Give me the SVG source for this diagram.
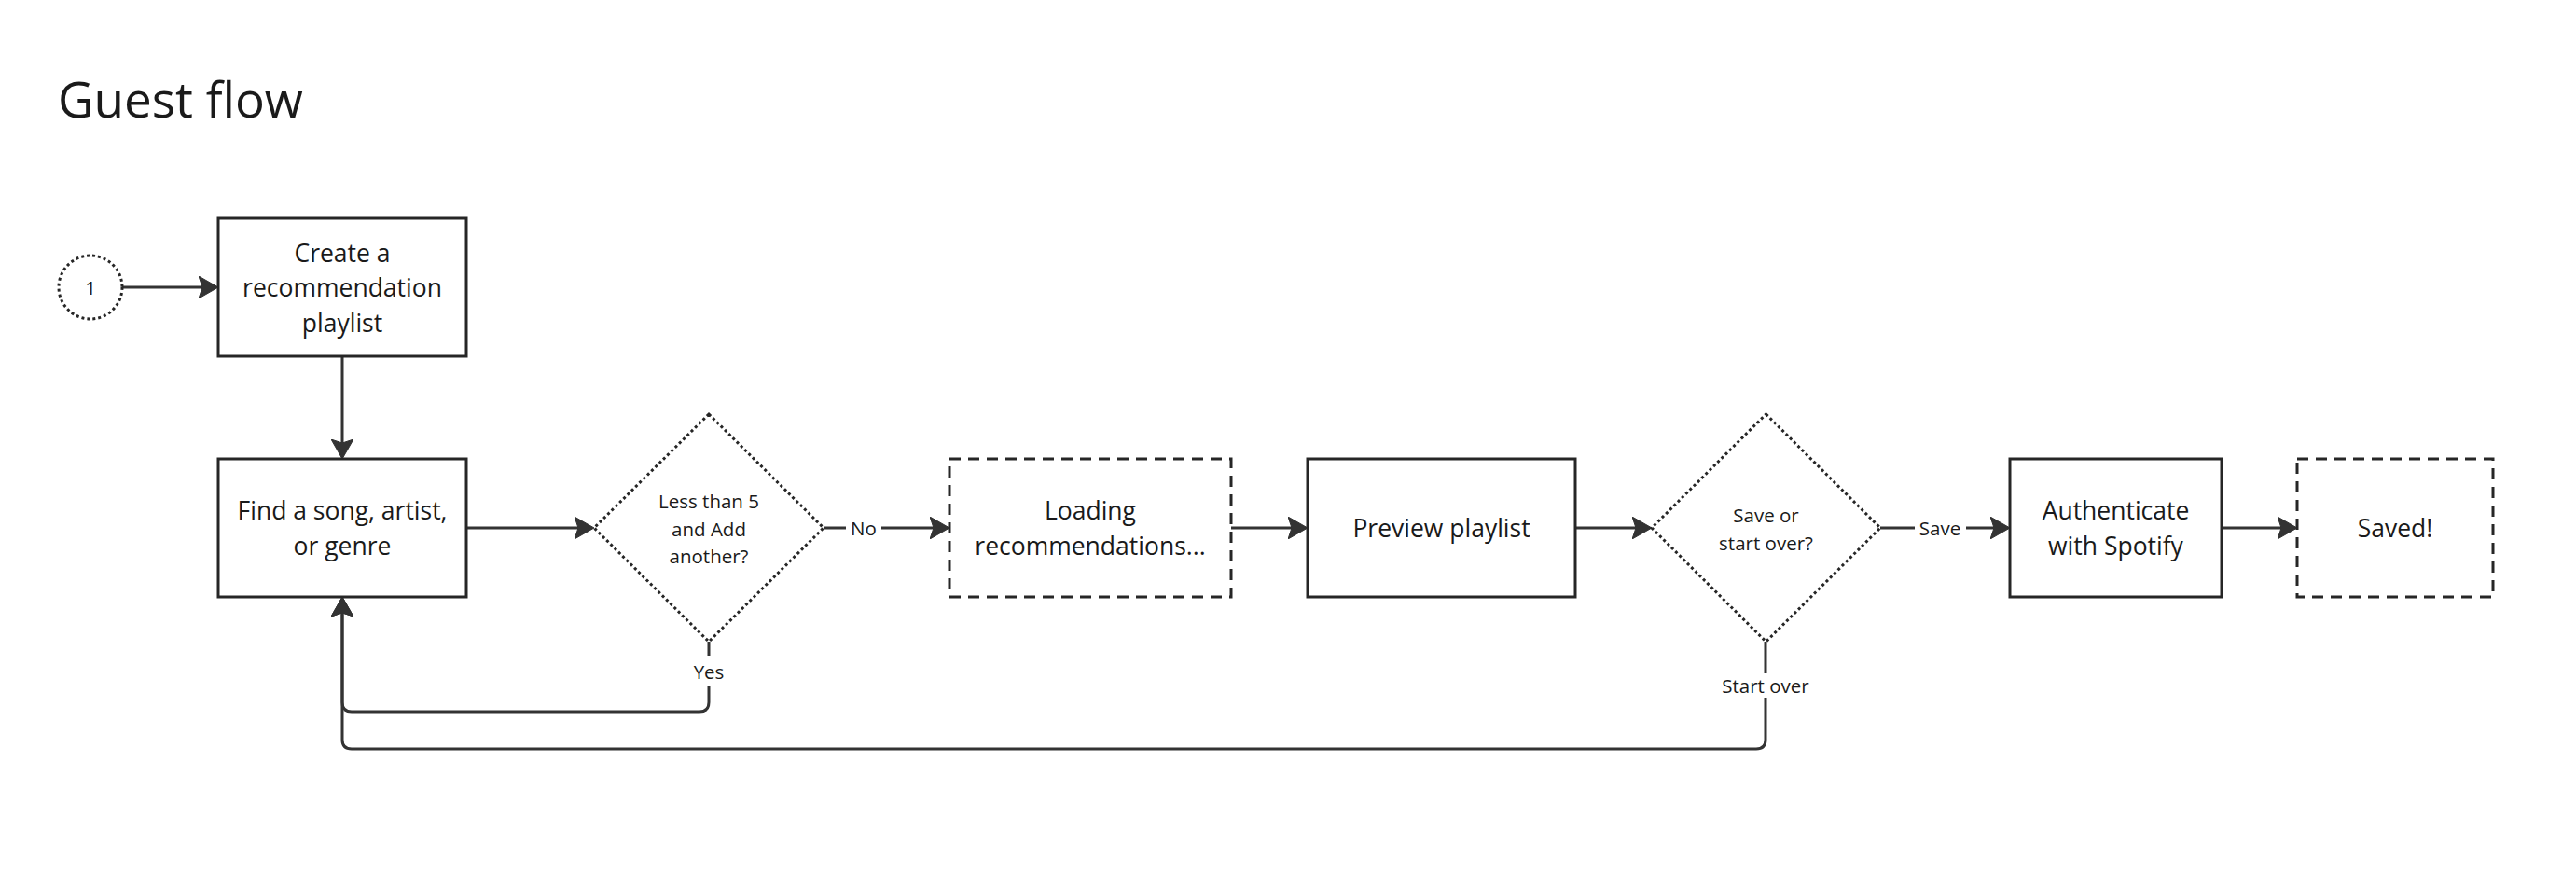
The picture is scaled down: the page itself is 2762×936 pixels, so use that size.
<svg xmlns="http://www.w3.org/2000/svg" width="2762" height="936" viewBox="0 0 2762 936">
  <style>
    .title { font-family: "Open Sans", "Noto Sans", "Liberation Sans", sans-serif; font-size: 53px; fill: #1a1a1a; }
    .node { font-family: "Open Sans", "Noto Sans", "Liberation Sans", sans-serif; font-size: 26.5px; fill: #1a1a1a; text-anchor: middle; }
    .dtext { font-family: "Open Sans", "Noto Sans", "Liberation Sans", sans-serif; font-size: 20.5px; fill: #1a1a1a; text-anchor: middle; }
    .lbl { font-family: "Open Sans", "Noto Sans", "Liberation Sans", sans-serif; font-size: 20.5px; fill: #1a1a1a; text-anchor: middle; }
    .box { fill: #ffffff; stroke: #262626; stroke-width: 3; }
    .dashed { fill: #ffffff; stroke: #262626; stroke-width: 3; stroke-dasharray: 12 8; }
    .dotted { fill: #ffffff; stroke: #262626; stroke-width: 3; stroke-dasharray: 3 3; }
    .edge { fill: none; stroke: #333333; stroke-width: 3; }
    .lblbg { fill: #ffffff; }
  </style>
  <defs>
    <marker id="arrow" markerUnits="userSpaceOnUse" markerWidth="21" markerHeight="24" viewBox="0 0 21 24" refX="17" refY="12" orient="auto">
      <path d="M0,0 L21,12 L0,24 L4,12 Z" fill="#333333" stroke="#333333" stroke-width="1" stroke-linejoin="round"/>
    </marker>
  </defs>

  <text class="title" x="62" y="126">Guest flow</text>

  <g id="connectors">
    <path class="edge" d="M131,308 H230" marker-end="url(#arrow)"/>
    <path class="edge" d="M367,382 V488" marker-end="url(#arrow)"/>
    <path class="edge" d="M500,566 H633" marker-end="url(#arrow)"/>
    <path class="edge" d="M883,566 H1014" marker-end="url(#arrow)"/>
    <path class="edge" d="M1320,566 H1398" marker-end="url(#arrow)"/>
    <path class="edge" d="M1689,566 H1767" marker-end="url(#arrow)"/>
    <path class="edge" d="M2016,566 H2151" marker-end="url(#arrow)"/>
    <path class="edge" d="M2382,566 H2459" marker-end="url(#arrow)"/>
    <path class="edge" d="M760,688 V753 Q760,763 750,763 H377 Q367,763 367,753 V644" marker-end="url(#arrow)"/>
    <path class="edge" d="M1893,688 V793 Q1893,803 1883,803 H377 Q367,803 367,793 V644" marker-end="url(#arrow)"/>
    <rect class="lblbg" x="907" y="552" width="38" height="28"/>
    <text class="lbl" x="926" y="573.5">No</text>
    <rect class="lblbg" x="2053" y="552" width="55" height="28"/>
    <text class="lbl" x="2080" y="573.5">Save</text>
    <rect class="lblbg" x="740" y="703" width="40" height="32"/>
    <text class="lbl" x="760" y="728">Yes</text>
    <rect class="lblbg" x="1840" y="722" width="106" height="26"/>
    <text class="lbl" x="1893" y="743">Start over</text>
  </g>

  <g id="start">
    <circle class="dotted" cx="97" cy="308" r="34"/>
    <text class="lbl" x="97" y="316">1</text>
  </g>

  <g id="create">
    <rect class="box" x="234" y="234" width="266" height="148"/>
    <text class="node" x="367" y="280.5">Create a</text>
    <text class="node" x="367" y="318">recommendation</text>
    <text class="node" x="367" y="355.5">playlist</text>
  </g>

  <g id="find">
    <rect class="box" x="234" y="492" width="266" height="148"/>
    <text class="node" x="367" y="557">Find a song, artist,</text>
    <text class="node" x="367" y="594.5">or genre</text>
  </g>

  <g id="decision1">
    <polygon class="dotted" points="760,444 883,566 760,688 637,566"/>
    <text class="dtext" x="760" y="545">Less than 5</text>
    <text class="dtext" x="760" y="574.5">and Add</text>
    <text class="dtext" x="760" y="604">another?</text>
  </g>

  <g id="loading">
    <rect class="dashed" x="1018" y="492" width="302" height="148"/>
    <text class="node" x="1169" y="557">Loading</text>
    <text class="node" x="1169" y="594.5">recommendations...</text>
  </g>

  <g id="preview">
    <rect class="box" x="1402" y="492" width="287" height="148"/>
    <text class="node" x="1545.5" y="576">Preview playlist</text>
  </g>

  <g id="decision2">
    <polygon class="dotted" points="1893.5,444 2016,566 1893.5,688 1771,566"/>
    <text class="dtext" x="1893.5" y="560">Save or</text>
    <text class="dtext" x="1893.5" y="589.5">start over?</text>
  </g>

  <g id="authenticate">
    <rect class="box" x="2155" y="492" width="227" height="148"/>
    <text class="node" x="2268.5" y="557">Authenticate</text>
    <text class="node" x="2268.5" y="594.5">with Spotify</text>
  </g>

  <g id="saved">
    <rect class="dashed" x="2463" y="492" width="210" height="148"/>
    <text class="node" x="2568" y="576">Saved!</text>
  </g>
</svg>
